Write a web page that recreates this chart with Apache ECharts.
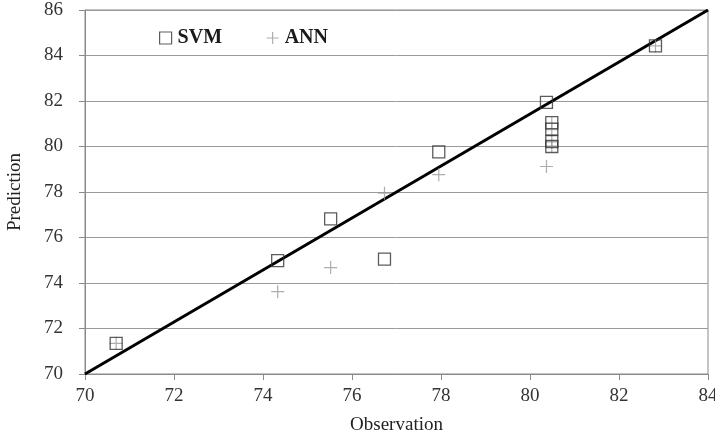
<!DOCTYPE html>
<html><head><meta charset="utf-8">
<script src="https://cdn.jsdelivr.net/npm/echarts@6/dist/echarts.min.js"></script>
<style>html,body{margin:0;padding:0;background:#fff}#c{width:715px;height:438px}</style>
</head><body><div id="c"></div>
<script>
const observation = [70.7, 74.33, 75.52, 76.73, 77.95, 80.37, 80.49, 80.49, 80.49, 80.49, 82.82];
const svmPred = [71.35, 74.98, 76.82, 75.05, 79.76, 81.94, 81.05, 80.76, 80.22, 80.0, 84.42];
const annPred = [71.35, 73.62, 74.68, 77.95, 78.76, 79.12, 81.02, 80.74, 80.2, 80.02, 84.42];
const refLine = [[70, 70], [84, 86]];
const xTicks = [70, 72, 74, 76, 78, 80, 82, 84];
const yTicks = [70, 72, 74, 76, 78, 80, 82, 84, 86];

const serif = 'Liberation Serif';
const chart = echarts.init(document.getElementById('c'));
const plusPath = 'path://M5,0 L5,10 M0,5 L10,5';
chart.setOption({
  animation: false,
  grid: {left: 85, right: 7, top: 10, bottom: 64, containLabel: false, outerBoundsMode: 'none',
    show: true, borderColor: '#8a8a8a', borderWidth: 1},
  legend: {
    left: 154, top: 23, itemGap: 44, itemWidth: 12, itemHeight: 12,
    textStyle: {fontFamily: serif, fontSize: 20, fontWeight: 'bold', color: '#1a1a1a', padding: [0, 0, 0, 1]},
    data: [
      {name: 'SVM', icon: 'rect', itemStyle: {color: 'rgba(0,0,0,0)', borderColor: '#333', borderWidth: 1.2}},
      {name: 'ANN', icon: plusPath, itemStyle: {color: 'rgba(0,0,0,0)', borderColor: '#999', borderWidth: 1.2}}
    ]
  },
  xAxis: {
    type: 'value', min: 70, max: 84, interval: 2,
    name: 'Observation', nameLocation: 'middle', nameGap: 42,
    nameTextStyle: {fontFamily: serif, fontSize: 19, color: '#222'},
    axisLine: {show: true, lineStyle: {color: '#8a8a8a'}},
    axisTick: {show: true, length: 6, inside: false, lineStyle: {color: '#8a8a8a'}},
    axisLabel: {fontFamily: serif, fontSize: 19, color: '#333', margin: 13,
      formatter: v => xTicks.includes(v) ? String(v) : ''},
    splitLine: {show: false}
  },
  yAxis: {
    type: 'value', min: 70, max: 86, interval: 2,
    name: 'Prediction', nameLocation: 'middle', nameGap: 60, nameRotate: 90,
    nameTextStyle: {fontFamily: serif, fontSize: 19, color: '#222'},
    axisLine: {show: true, lineStyle: {color: '#8a8a8a'}},
    axisTick: {show: true, length: 6, lineStyle: {color: '#8a8a8a'}},
    axisLabel: {fontFamily: serif, fontSize: 19, color: '#333', margin: 22,
      formatter: v => yTicks.includes(v) ? String(v) : ''},
    splitLine: {show: true, lineStyle: {color: '#9a9a9a', width: 1}}
  },
  series: [
    {
      name: 'Line', type: 'line', data: refLine, symbol: 'none', silent: true,
      lineStyle: {color: '#000', width: 3}, z: 3
    },
    {
      name: 'ANN', type: 'scatter', symbol: plusPath, symbolSize: 13,
      data: observation.map((x, i) => [x, annPred[i]]),
      itemStyle: {color: 'rgba(0,0,0,0)', borderColor: '#999', borderWidth: 1.2}, z: 4
    },
    {
      name: 'SVM', type: 'scatter', symbol: 'rect', symbolSize: 12,
      data: observation.map((x, i) => [x, svmPred[i]]),
      itemStyle: {color: 'rgba(0,0,0,0)', borderColor: '#333', borderWidth: 1.3}, z: 5
    }
  ]
});
</script></body></html>
